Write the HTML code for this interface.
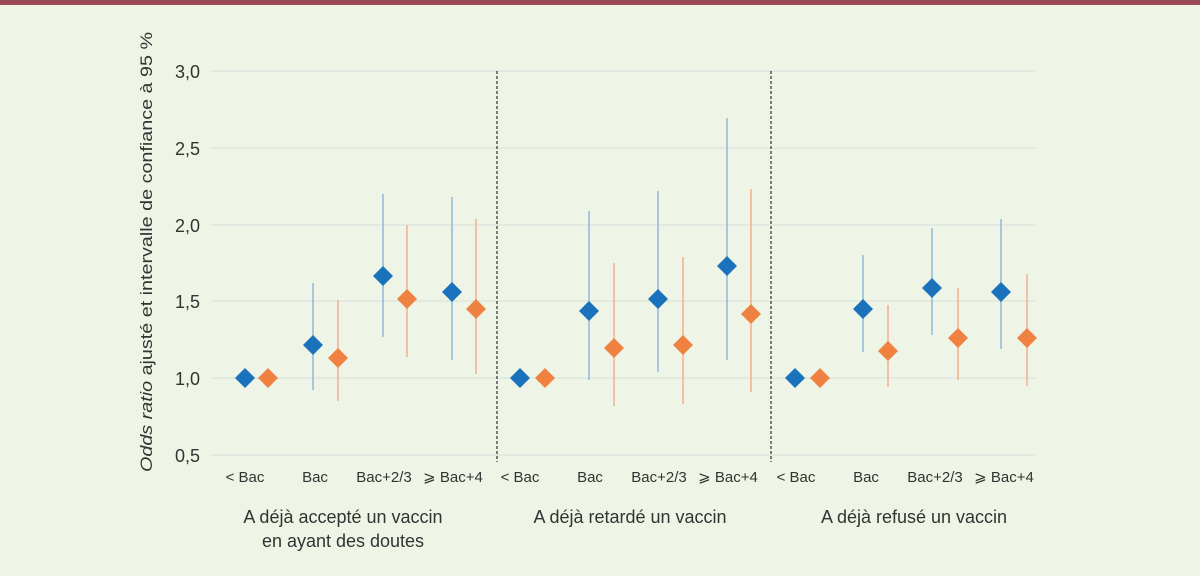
<!DOCTYPE html>
<html><head><meta charset="utf-8"><style>
body{margin:0;background:#eef5e6;}
svg{display:block;font-family:"Liberation Sans",sans-serif;}
</style></head><body>
<svg width="1200" height="576" viewBox="0 0 1200 576">
<rect width="1200" height="576" fill="#eef5e6"/>
<rect width="1200" height="5" fill="#9b4a55"/>
<g stroke="#d9e2dc" stroke-width="1.2">
<line x1="211" x2="1035" y1="71" y2="71"/><line x1="211" x2="1035" y1="148" y2="148"/>
<line x1="211" x2="1035" y1="225" y2="225"/><line x1="211" x2="1035" y1="301" y2="301"/>
<line x1="211" x2="1035" y1="378" y2="378"/><line x1="211" x2="1035" y1="455" y2="455"/>
</g>
<g font-size="18" fill="#333" text-anchor="end">
<text x="200" y="78">3,0</text><text x="200" y="155">2,5</text><text x="200" y="232">2,0</text>
<text x="200" y="308">1,5</text><text x="200" y="385">1,0</text><text x="200" y="462">0,5</text>
</g>
<text transform="translate(152,252) rotate(-90)" font-size="17" fill="#333" text-anchor="middle" textLength="440" lengthAdjust="spacingAndGlyphs"><tspan font-style="italic">Odds ratio</tspan> ajusté et intervalle de confiance à 95 %</text>
<g stroke="#555" stroke-width="1.5" stroke-dasharray="3,2">
<line x1="497" x2="497" y1="71" y2="462"/><line x1="771" x2="771" y1="71" y2="462"/>
</g>
<g stroke-width="1.5">
<g stroke="#8db8dc">
<line x1="313" x2="313" y1="390" y2="283"/><line x1="383" x2="383" y1="337" y2="194"/><line x1="452" x2="452" y1="360" y2="197"/>
<line x1="589" x2="589" y1="380" y2="211"/><line x1="658" x2="658" y1="372" y2="191"/><line x1="727" x2="727" y1="360" y2="118"/>
<line x1="863" x2="863" y1="352" y2="255"/><line x1="932" x2="932" y1="335" y2="228"/><line x1="1001" x2="1001" y1="349" y2="219"/>
</g>
<g stroke="#f2b08a">
<line x1="338" x2="338" y1="401" y2="300"/><line x1="407" x2="407" y1="357" y2="225"/><line x1="476" x2="476" y1="374" y2="219"/>
<line x1="614" x2="614" y1="406" y2="263"/><line x1="683" x2="683" y1="404" y2="257"/><line x1="751" x2="751" y1="392" y2="189"/>
<line x1="888" x2="888" y1="387" y2="305"/><line x1="958" x2="958" y1="380" y2="288"/><line x1="1027" x2="1027" y1="386" y2="274"/>
</g>
</g>
<defs><path id="d" d="M0,-10 L10,0 L0,10 L-10,0Z"/></defs>
<g fill="#1a72bd">
<use href="#d" x="245" y="378"/><use href="#d" x="313" y="345"/><use href="#d" x="383" y="276"/><use href="#d" x="452" y="292"/>
<use href="#d" x="520" y="378"/><use href="#d" x="589" y="311"/><use href="#d" x="658" y="299"/><use href="#d" x="727" y="266"/>
<use href="#d" x="795" y="378"/><use href="#d" x="863" y="309"/><use href="#d" x="932" y="288"/><use href="#d" x="1001" y="292"/>
</g>
<g fill="#ef8240">
<use href="#d" x="268" y="378"/><use href="#d" x="338" y="358"/><use href="#d" x="407" y="299"/><use href="#d" x="476" y="309"/>
<use href="#d" x="545" y="378"/><use href="#d" x="614" y="348"/><use href="#d" x="683" y="345"/><use href="#d" x="751" y="314"/>
<use href="#d" x="820" y="378"/><use href="#d" x="888" y="351"/><use href="#d" x="958" y="338"/><use href="#d" x="1027" y="338"/>
</g>
<g font-size="15" fill="#333" text-anchor="middle">
<text x="245" y="482">&lt; Bac</text><text x="315" y="482">Bac</text><text x="384" y="482">Bac+2/3</text><text x="453" y="482">⩾ Bac+4</text>
<text x="520" y="482">&lt; Bac</text><text x="590" y="482">Bac</text><text x="659" y="482">Bac+2/3</text><text x="728" y="482">⩾ Bac+4</text>
<text x="796" y="482">&lt; Bac</text><text x="866" y="482">Bac</text><text x="935" y="482">Bac+2/3</text><text x="1004" y="482">⩾ Bac+4</text>
</g>
<g font-size="18" fill="#333" text-anchor="middle">
<text x="343" y="523">A déjà accepté un vaccin</text><text x="343" y="547">en ayant des doutes</text>
<text x="630" y="523">A déjà retardé un vaccin</text>
<text x="914" y="523">A déjà refusé un vaccin</text>
</g>
</svg>
</body></html>
